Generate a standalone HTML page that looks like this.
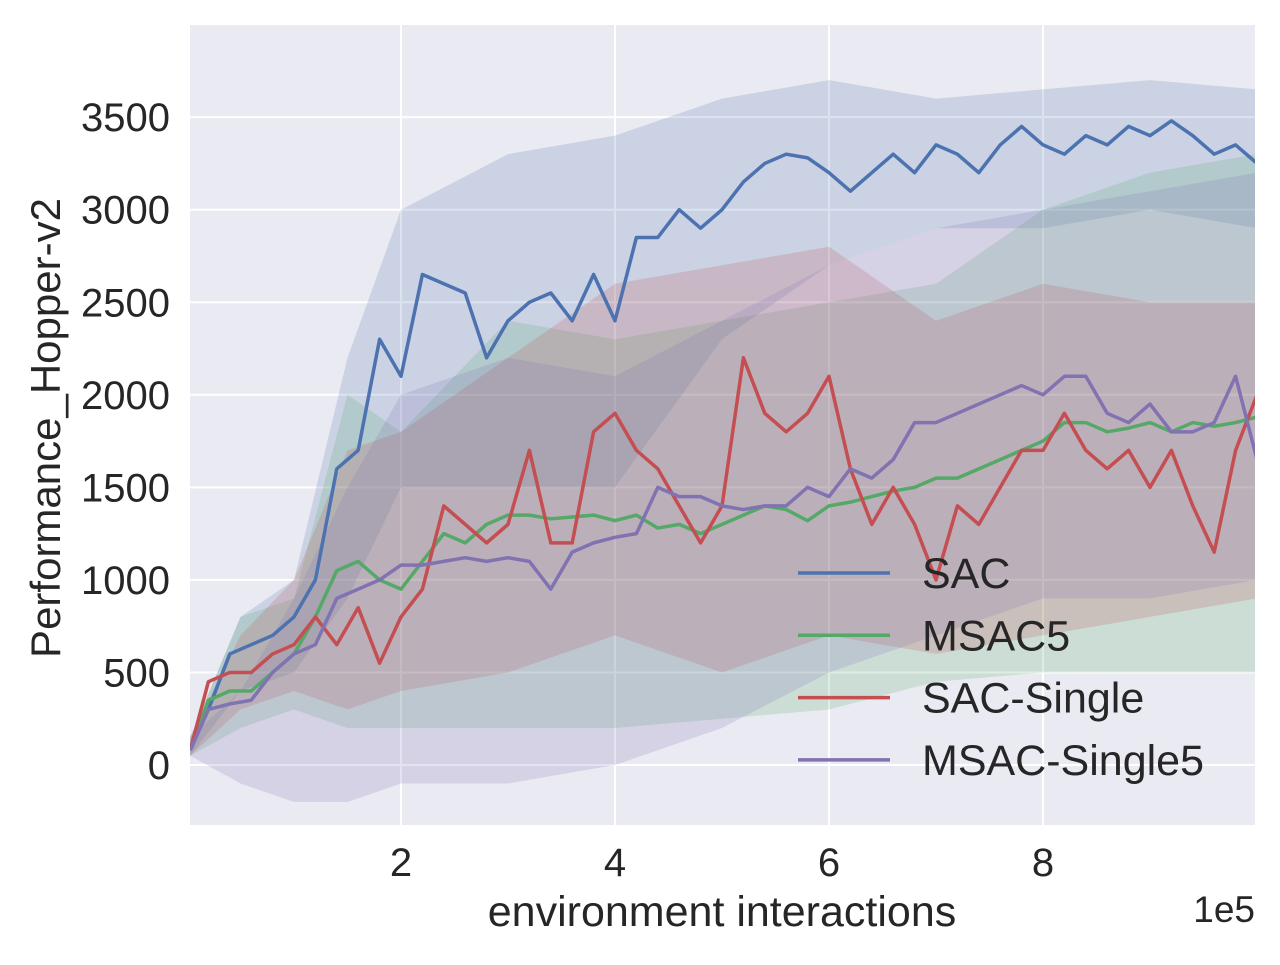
<!DOCTYPE html>
<html><head><meta charset="utf-8"><style>
body{margin:0;background:#fff;}
svg text{font-family:"Liberation Sans",sans-serif;fill:#262626;}
</style></head><body>
<svg id="chart" width="1280" height="960" xmlns="http://www.w3.org/2000/svg"></svg>
<script>
const meanX = [0.03,0.2,0.4,0.6,0.8,1.0,1.2,1.4,1.6,1.8,2.0,2.2,2.4,2.6,2.8,3.0,3.2,3.4,3.6,3.8,4.0,4.2,4.4,4.6,4.8,5.0,5.2,5.4,5.6,5.8,6.0,6.2,6.4,6.6,6.8,7.0,7.2,7.4,7.6,7.8,8.0,8.2,8.4,8.6,8.8,9.0,9.2,9.4,9.6,9.8,10];
const sacMean = [80,300,600,650,700,800,1000,1600,1700,2300,2100,2650,2600,2550,2200,2400,2500,2550,2400,2650,2400,2850,2850,3000,2900,3000,3150,3250,3300,3280,3200,3100,3200,3300,3200,3350,3300,3200,3350,3450,3350,3300,3400,3350,3450,3400,3480,3400,3300,3350,3250];
const msacMean = [80,350,400,400,500,600,800,1050,1100,1000,950,1100,1250,1200,1300,1350,1350,1330,1340,1350,1320,1350,1280,1300,1250,1300,1350,1400,1380,1320,1400,1420,1450,1480,1500,1550,1550,1600,1650,1700,1750,1850,1850,1800,1820,1850,1800,1850,1830,1850,1880];
const sacSingleMean = [80,450,500,500,600,650,800,650,850,550,800,950,1400,1300,1200,1300,1700,1200,1200,1800,1900,1700,1600,1400,1200,1400,2200,1900,1800,1900,2100,1600,1300,1500,1300,1000,1400,1300,1500,1700,1700,1900,1700,1600,1700,1500,1700,1400,1150,1700,2000];
const msacSingleMean = [80,300,330,350,500,600,650,900,950,1000,1080,1080,1100,1120,1100,1120,1100,950,1150,1200,1230,1250,1500,1450,1450,1400,1380,1400,1400,1500,1450,1600,1550,1650,1850,1850,1900,1950,2000,2050,2000,2100,2100,1900,1850,1950,1800,1800,1850,2100,1650];
const bandX = [0.03,0.5,1,1.5,2,3,4,5,6,7,8,9,10];
const sacUpper = [150,800,1000,2200,3000,3300,3400,3600,3700,3600,3650,3700,3650];
const sacLower = [50,400,500,900,1500,1500,1500,2300,2700,2900,2900,3000,2900];
const msacUpper = [150,800,900,2000,1800,2400,2300,2400,2500,2600,3000,3200,3300];
const msacLower = [50,200,300,200,200,200,200,250,300,450,500,500,500];
const sacSingleUpper = [150,700,1000,1700,1800,2200,2600,2700,2800,2400,2600,2500,2500];
const sacSingleLower = [50,300,400,300,400,500,700,500,700,600,700,800,900];
const msacSingleUpper = [150,400,900,1500,2000,2200,2100,2400,2700,2900,3000,3100,3200];
const msacSingleLower = [50,-100,-200,-200,-100,-100,0,200,500,700,900,900,1000];
const yTicks = [0,500,1000,1500,2000,2500,3000,3500];
const xTicks = [2,4,6,8];
const seriesNames = ["SAC","MSAC5","SAC-Single","MSAC-Single5"];

const L=190,R=1255,T=25,B=825;
const sx=v=>187+v*107;
const sy=v=>765-v*0.1851;
const NS="http://www.w3.org/2000/svg";
const svg=document.getElementById('chart');
function mk(tag,attrs,parent){const e=document.createElementNS(NS,tag);for(const k in attrs)e.setAttribute(k,attrs[k]);(parent||svg).appendChild(e);return e;}

const bg=mk('rect',{x:L,y:T,width:R-L,height:B-T,fill:'#eaeaf2'});


const defs=mk('defs',{});
const cp=mk('clipPath',{id:'clip'},defs);
mk('rect',{x:L,y:T,width:R-L,height:B-T},cp);

yTicks.forEach(v=>{
  const g=mk('line',{x1:L,x2:R,y1:sy(v),y2:sy(v),stroke:'#fff','stroke-width':2});
  
  
  const t=mk('text',{x:170,y:sy(v)+14,'text-anchor':'end','font-size':40});
  t.textContent=v;
  
  
});
xTicks.forEach(v=>{
  const g=mk('line',{x1:sx(v),x2:sx(v),y1:T,y2:B,stroke:'#fff','stroke-width':2});
  
  
  const t=mk('text',{x:sx(v),y:876,'text-anchor':'middle','font-size':40});
  t.textContent=v;
  
  
});

const colors=['#4c72b0','#55a868','#c44e52','#8172b2'];
const uppers=[sacUpper,msacUpper,sacSingleUpper,msacSingleUpper];
const lowers=[sacLower,msacLower,sacSingleLower,msacSingleLower];
const means=[sacMean,msacMean,sacSingleMean,msacSingleMean];
const gp=mk('g',{'clip-path':'url(#clip)'});
uppers.forEach((u,i)=>{
  let d='M'+bandX.map((x,j)=>sx(x)+','+sy(u[j])).join('L');
  d+='L'+bandX.slice().reverse().map((x,j)=>sx(x)+','+sy(lowers[i][bandX.length-1-j])).join('L')+'Z';
  const p=mk('path',{d:d,fill:colors[i],'fill-opacity':0.2},gp);
  
  
});
means.forEach((m,i)=>{
  const d='M'+meanX.map((x,j)=>sx(x)+','+sy(m[j])).join('L');
  const p=mk('path',{d:d,fill:'none',stroke:colors[i],'stroke-width':3.5,'stroke-linejoin':'round'},gp);
  
  
});

seriesNames.forEach((n,i)=>{
  const y=573+i*62.3;
  const l=mk('line',{x1:798,x2:890,y1:y,y2:y,stroke:colors[i],'stroke-width':3.5});
  
  
  const t=mk('text',{x:922,y:y+15,'font-size':43});
  t.textContent=n;
  
  
});

const xl=mk('text',{x:722,y:926,'text-anchor':'middle','font-size':43});
xl.textContent='environment interactions';


const ex=mk('text',{x:1255,y:922,'text-anchor':'end','font-size':37});
ex.textContent='1e5';


const yl=mk('text',{x:0,y:0,'text-anchor':'middle','font-size':42,transform:'translate(60,428) rotate(-90)'});
yl.textContent='Performance_Hopper-v2';


</script>
</body></html>
